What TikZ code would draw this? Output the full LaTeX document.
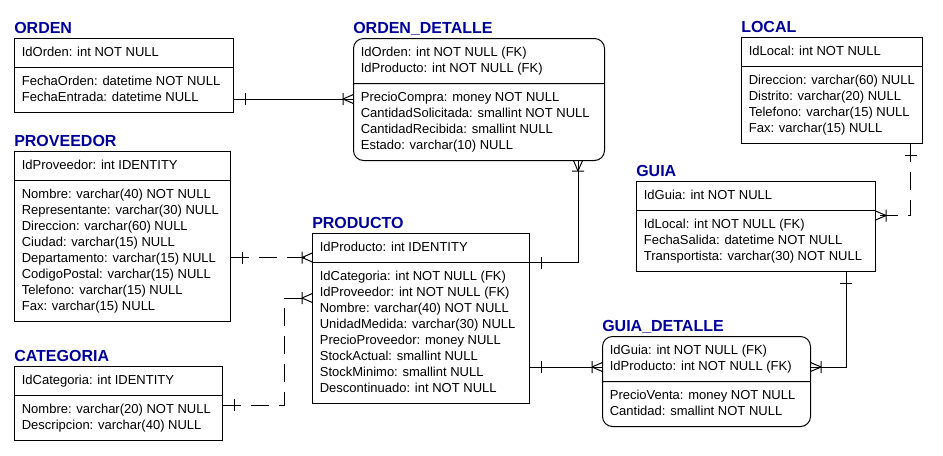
\documentclass[tikz,border=0pt]{standalone}
\usepackage{fontspec}
\setmainfont{Liberation Sans}
\usetikzlibrary{shapes.multipart, decorations.markings}
\definecolor{azul}{RGB}{0,0,153}
\tikzstyle{entidad} = [rectangle split, rectangle split parts=2, rectangle split part align=left, draw=black, line width=0.75pt, anchor=north west, align=left, inner xsep=5.5pt, inner ysep=4.5pt, font=\fontsize{9.75}{12}\selectfont]
\tikzstyle{dependiente} = [entidad, rounded corners=7.5pt]
\tikzstyle{titulo} = [anchor=base west, inner sep=0pt, text=azul, font=\fontsize{12}{14}\selectfont\bfseries]
\tikzstyle{rel} = [line width=0.75pt]
\tikzstyle{norel} = [rel, dash pattern=on 13.5pt off 7.5pt]
\tikzstyle{uno} = [postaction={decorate, decoration={markings, mark=at position 8.25pt with {\draw[solid, line width=0.75pt] (0,-4.5pt) -- (0,4.5pt);}}}]
\tikzstyle{muchos} = [postaction={decorate, decoration={markings, mark=at position -7.5pt with {\draw[solid, line width=0.75pt] (0,-4.5pt) -- (0,4.5pt) (0,0) -- (7.5pt,3.25pt) (0,0) -- (7.5pt,-3.25pt);}}}]

\begin{document}
\begin{tikzpicture}[x=0.75pt, y=-0.75pt]
	\useasboundingbox (0,0) rectangle (943,455);
	\node (orden) [entidad, minimum width=164.25pt] at (14,38) {\strut IdOrden: int NOT NULL\strut
		\nodepart{two}\strut FechaOrden: datetime NOT NULL\\FechaEntrada: datetime NULL\strut};
	\node (detalle) [dependiente, minimum width=188.25pt] at (353,38) {\strut IdOrden: int NOT NULL (FK)\\IdProducto: int NOT NULL (FK)\strut
		\nodepart{two}\strut PrecioCompra: money NOT NULL\\CantidadSolicitada: smallint NOT NULL\\CantidadRecibida: smallint NULL\\Estado: varchar(10) NULL\strut};
	\node (local) [entidad, minimum width=132.75pt] at (741,37) {\strut IdLocal: int NOT NULL\strut
		\nodepart{two}\strut Direccion: varchar(60) NULL\\Distrito: varchar(20) NULL\\Telefono: varchar(15) NULL\\Fax: varchar(15) NULL\strut};
	\node (proveedor) [entidad, minimum width=162pt] at (14,151) {\strut IdProveedor: int IDENTITY\strut
		\nodepart{two}\strut Nombre: varchar(40) NOT NULL\\Representante: varchar(30) NULL\\Direccion: varchar(60) NULL\\Ciudad: varchar(15) NULL\\Departamento: varchar(15) NULL\\CodigoPostal: varchar(15) NULL\\Telefono: varchar(15) NULL\\Fax: varchar(15) NULL\strut};
	\node (categoria) [entidad, minimum width=156pt] at (14,366) {\strut IdCategoria: int IDENTITY\strut
		\nodepart{two}\strut Nombre: varchar(20) NOT NULL\\Descripcion: varchar(40) NULL\strut};
	\node (producto) [entidad, minimum width=162.75pt] at (312,233) {\strut IdProducto: int IDENTITY\strut
		\nodepart{two}\strut IdCategoria: int NOT NULL (FK)\\IdProveedor: int NOT NULL (FK)\\Nombre: varchar(40) NOT NULL\\UnidadMedida: varchar(30) NULL\\PrecioProveedor: money NULL\\StockActual: smallint NULL\\StockMinimo: smallint NULL\\Descontinuado: int NOT NULL\strut};
	\node (guia) [entidad, minimum width=179.25pt] at (636,181) {\strut IdGuia: int NOT NULL\strut
		\nodepart{two}\strut IdLocal: int NOT NULL (FK)\\FechaSalida: datetime NOT NULL\\Transportista: varchar(30) NOT NULL\strut};
	\node (gdetalle) [dependiente, minimum width=156pt] at (602,336) {\strut IdGuia: int NOT NULL (FK)\\IdProducto: int NOT NULL (FK)\strut
		\nodepart{two}\strut PrecioVenta: money NOT NULL\\Cantidad: smallint NOT NULL\strut};

	\node (tOrden) [titulo] at ([yshift=3.75pt]orden.north west) {ORDEN};
	\node (tDetalle) [titulo] at ([yshift=3.75pt]detalle.north west) {ORDEN\_DETALLE};
	\node (tLocal) [titulo] at ([yshift=3.75pt]local.north west) {LOCAL};
	\node (tProveedor) [titulo] at ([yshift=3.75pt]proveedor.north west) {PROVEEDOR};
	\node (tCategoria) [titulo] at ([yshift=3.75pt]categoria.north west) {CATEGORIA};
	\node (tProducto) [titulo] at ([yshift=3.75pt]producto.north west) {PRODUCTO};
	\node (tGuia) [titulo] at ([yshift=3.75pt]guia.north west) {GUIA};
	\node (tGdetalle) [titulo] at ([yshift=3.75pt]gdetalle.north west) {GUIA\_DETALLE};

	\draw [rel, uno, muchos] ([yshift=10.5pt]orden.south east) -- ([yshift=10.5pt]orden.south east -| detalle.west);
	\draw [norel, uno, muchos] ([yshift=3.75pt]producto.text split west -| proveedor.east) -- ([yshift=3.75pt]producto.text split west);
	\draw [norel, uno, muchos] ([yshift=-29.25pt]categoria.north east) -- ++(61,0) |- ([yshift=-48.75pt]producto.north west);
	\draw [rel, uno, muchos] (producto.text split east) -| ([xshift=-20.25pt]detalle.south east);
	\draw [rel, uno, muchos] ([yshift=-23.25pt]gdetalle.north west -| producto.east) -- ([yshift=-23.25pt]gdetalle.north west);
	\draw [norel, uno, muchos] ([xshift=-9pt]local.south east) |- ([yshift=-3.75pt]guia.text split east);
	\draw [rel, uno, muchos] ([xshift=-22.5pt]guia.south east) |- ([yshift=-23.25pt]gdetalle.north east);
\end{tikzpicture}
\end{document}
